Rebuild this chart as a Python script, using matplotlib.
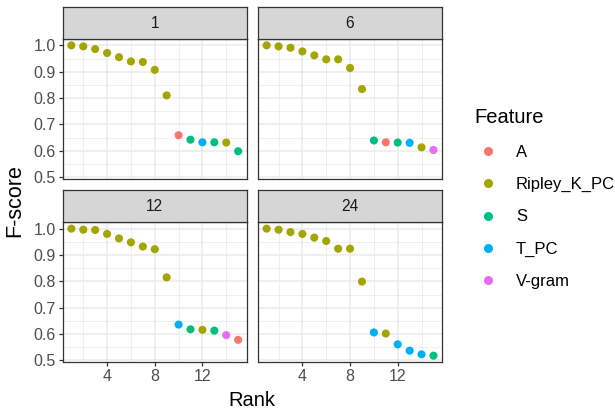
import numpy as np
import matplotlib.pyplot as plt
from matplotlib.lines import Line2D

plt.rcParams['font.family'] = ['Liberation Sans', 'DejaVu Sans']

W, H = 615, 408

rank = list(range(1, 16))
panels = ['1', '6', '12', '24']

feat_1 = ['Ripley_K_PC'] * 9 + ['A', 'S', 'T_PC', 'S', 'Ripley_K_PC', 'S']
fscore_1 = [1.000, 0.996, 0.986, 0.971, 0.955, 0.939, 0.937, 0.907, 0.810,
            0.659, 0.642, 0.632, 0.632, 0.631, 0.598]
feat_6 = ['Ripley_K_PC'] * 9 + ['S', 'A', 'S', 'T_PC', 'Ripley_K_PC', 'V-gram']
fscore_6 = [1.000, 0.996, 0.991, 0.977, 0.962, 0.947, 0.947, 0.914, 0.834,
            0.639, 0.632, 0.631, 0.630, 0.613, 0.603]
feat_12 = ['Ripley_K_PC'] * 9 + ['T_PC', 'S', 'Ripley_K_PC', 'S', 'V-gram', 'A']
fscore_12 = [1.000, 0.996, 0.995, 0.980, 0.963, 0.948, 0.932, 0.922, 0.815,
             0.636, 0.618, 0.616, 0.613, 0.596, 0.578]
feat_24 = ['Ripley_K_PC'] * 9 + ['T_PC', 'Ripley_K_PC', 'T_PC', 'T_PC', 'T_PC', 'S']
fscore_24 = [1.000, 0.996, 0.987, 0.980, 0.966, 0.953, 0.924, 0.924, 0.799,
             0.606, 0.602, 0.561, 0.537, 0.523, 0.518]

features = ['A', 'Ripley_K_PC', 'S', 'T_PC', 'V-gram']
colors = ['#F8766D', '#A3A500', '#00BF7D', '#00B0F6', '#E76BF3']
col_of = dict(zip(features, colors))

data = {'1': (feat_1, fscore_1), '6': (feat_6, fscore_6),
        '12': (feat_12, fscore_12), '24': (feat_24, fscore_24)}

# shared scales with ggplot-style 5% expansion
all_y = fscore_1 + fscore_6 + fscore_12 + fscore_24
ylo, yhi = min(all_y), max(all_y)
ypad = (yhi - ylo) * 0.05
xpad = (max(rank) - min(rank)) * 0.05

fig = plt.figure(figsize=(W / 100, H / 100), dpi=100)

# panel boxes in pixels: left / top of each plotting area
lefts = [63, 258.3]
tops = [39, 222.3]
pw, ph = 183.5, 139.7
strip_h = 32

for i, p in enumerate(panels):
    r, c = divmod(i, 2)
    x0, y0 = lefts[c], tops[r]
    ax = fig.add_axes([x0 / W, 1 - (y0 + ph) / H, pw / W, ph / H])
    feat, fs = data[p]
    ax.scatter(rank, fs, c=[col_of[f] for f in feat], s=34, linewidths=0, zorder=3)
    ax.set_xlim(min(rank) - xpad, max(rank) + xpad)
    ax.set_ylim(ylo - ypad, yhi + ypad)
    ax.set_xticks([4, 8, 12])
    ax.set_xticks([2, 6, 10, 14], minor=True)
    ax.set_yticks([0.5, 0.6, 0.7, 0.8, 0.9, 1.0])
    ax.set_yticks([0.55, 0.65, 0.75, 0.85, 0.95], minor=True)
    ax.grid(which='major', color='#EBEBEB', lw=1.1, zorder=0)
    ax.grid(which='minor', color='#EBEBEB', lw=0.55, zorder=0)
    ax.set_axisbelow(True)
    for s in ax.spines.values():
        s.set_color('#333333')
        s.set_linewidth(0.9)
    ax.tick_params(which='minor', length=0)
    ax.tick_params(which='major', length=3, width=0.9, color='#333333',
                   labelsize=11.5, labelcolor='#4D4D4D', pad=2)
    ax.yaxis.set_major_formatter(plt.FormatStrFormatter('%.1f'))
    if c != 0:
        ax.tick_params(axis='y', left=False, labelleft=False)
    if r != 1:
        ax.tick_params(axis='x', bottom=False, labelbottom=False)

    sax = fig.add_axes([x0 / W, 1 - y0 / H, pw / W, strip_h / H])
    sax.set_facecolor('#D6D6D6')
    sax.set_xticks([])
    sax.set_yticks([])
    for s in sax.spines.values():
        s.set_color('#333333')
        s.set_linewidth(0.9)
    sax.text(0.5, 0.5, p, ha='center', va='center', fontsize=11.2, color='#1A1A1A',
             transform=sax.transAxes)

fig.text(15 / W, 1 - 201 / H, 'F-score', rotation=90, ha='center', va='center', fontsize=15.5)
fig.text(252 / W, 1 - 400 / H, 'Rank', ha='center', va='center', fontsize=14.5)

handles = [Line2D([], [], marker='o', ls='', color=col, markersize=6.5, markeredgewidth=0)
           for col in colors]
leg = fig.legend(handles, features, loc='upper left', bbox_to_anchor=(466 / W, 1 - 100 / H),
                 frameon=False, title='Feature', fontsize=12, title_fontsize=14.5,
                 labelspacing=1.04, handletextpad=0.9, handlelength=1.6, borderpad=0)
leg._legend_box.align = 'left'

fig.savefig('out.png', dpi=100)
